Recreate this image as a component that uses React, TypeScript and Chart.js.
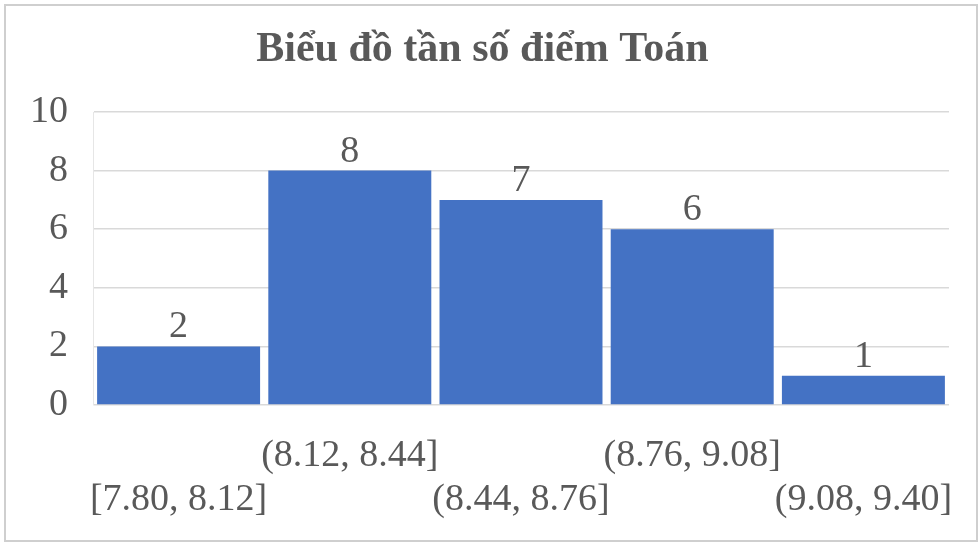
import React, { useEffect, useRef } from "react";
import { Chart, registerables } from "chart.js";

Chart.register(...registerables);

const categories = ["[7.80, 8.12]", "(8.12, 8.44]", "(8.44, 8.76]", "(8.76, 9.08]", "(9.08, 9.40]"];
const frequencies = [2, 8, 7, 6, 1];
const yTicks = [0, 2, 4, 6, 8, 10];
const titleText = "Biểu đồ tần số điểm Toán";

const FONT = '"Liberation Serif", "Times New Roman", "DejaVu Serif", serif';
const TEXT = "#595959";

const valueLabels = {
  id: "valueLabels",
  afterDatasetsDraw(chart: any) {
    const ctx = chart.ctx;
    const meta = chart.getDatasetMeta(0);
    ctx.save();
    ctx.font = `38px ${FONT}`;
    ctx.fillStyle = TEXT;
    ctx.textAlign = "center";
    ctx.textBaseline = "alphabetic";
    meta.data.forEach((bar: any, i: number) => {
      ctx.fillText(String(frequencies[i]), bar.x, bar.y - 9);
    });
    ctx.restore();
  },
};

export default function App() {
  const canvasRef = useRef<HTMLCanvasElement | null>(null);

  useEffect(() => {
    document.body.style.margin = "0";
    const canvas = canvasRef.current;
    if (!canvas) return;
    const chart = new Chart(canvas, {
      type: "bar",
      data: {
        labels: categories,
        datasets: [
          {
            data: frequencies,
            backgroundColor: "#4472C4",
            borderWidth: 0,
            barPercentage: 0.952,
            categoryPercentage: 1,
          },
        ],
      },
      options: {
        animation: false,
        responsive: false,
        maintainAspectRatio: false,
        devicePixelRatio: 1,
        layout: { padding: { left: 16, right: 31, top: 0, bottom: 0 } },
        plugins: {
          legend: { display: false },
          tooltip: { enabled: false },
          title: {
            display: true,
            text: titleText,
            color: TEXT,
            font: { family: FONT, size: 42, weight: "bold", lineHeight: 1.2 },
            padding: { top: 25, bottom: 36.6 },
          },
        },
        scales: {
          x: {
            grid: { display: false },
            border: { display: false },
            ticks: {
              color: TEXT,
              font: { family: FONT, size: 38, lineHeight: 1.16 },
              maxRotation: 0,
              minRotation: 0,
              autoSkip: false,
              padding: 21,
              callback: (_v: any, i: number) => (i % 2 === 0 ? ["", categories[i]] : [categories[i]]),
            },
            afterFit: (scale: any) => {
              scale.height = 139;
            },
          },
          y: {
            min: 0,
            max: 10,
            afterBuildTicks: (scale: any) => {
              scale.ticks = yTicks.map((v) => ({ value: v }));
            },
            grid: { color: "#d9d9d9", drawTicks: false, lineWidth: 1.5 },
            border: { display: true, color: "#e6e6e6" },
            ticks: {
              color: TEXT,
              font: { family: FONT, size: 38 },
              padding: 25,
            },
            afterFit: (scale: any) => {
              scale.width = 77;
            },
          },
        },
      },
      plugins: [valueLabels],
    });
    return () => chart.destroy();
  }, []);

  return (
    <div style={{ position: "relative", width: 980, height: 544, background: "#fff" }}>
      <div
        style={{
          position: "absolute",
          left: 4,
          top: 4,
          width: 970,
          height: 534,
          border: "2px solid #cfcfcf",
          boxSizing: "content-box",
        }}
      />
      <canvas ref={canvasRef} width={980} height={544} style={{ position: "absolute", left: 0, top: 0 }} />
    </div>
  );
}
